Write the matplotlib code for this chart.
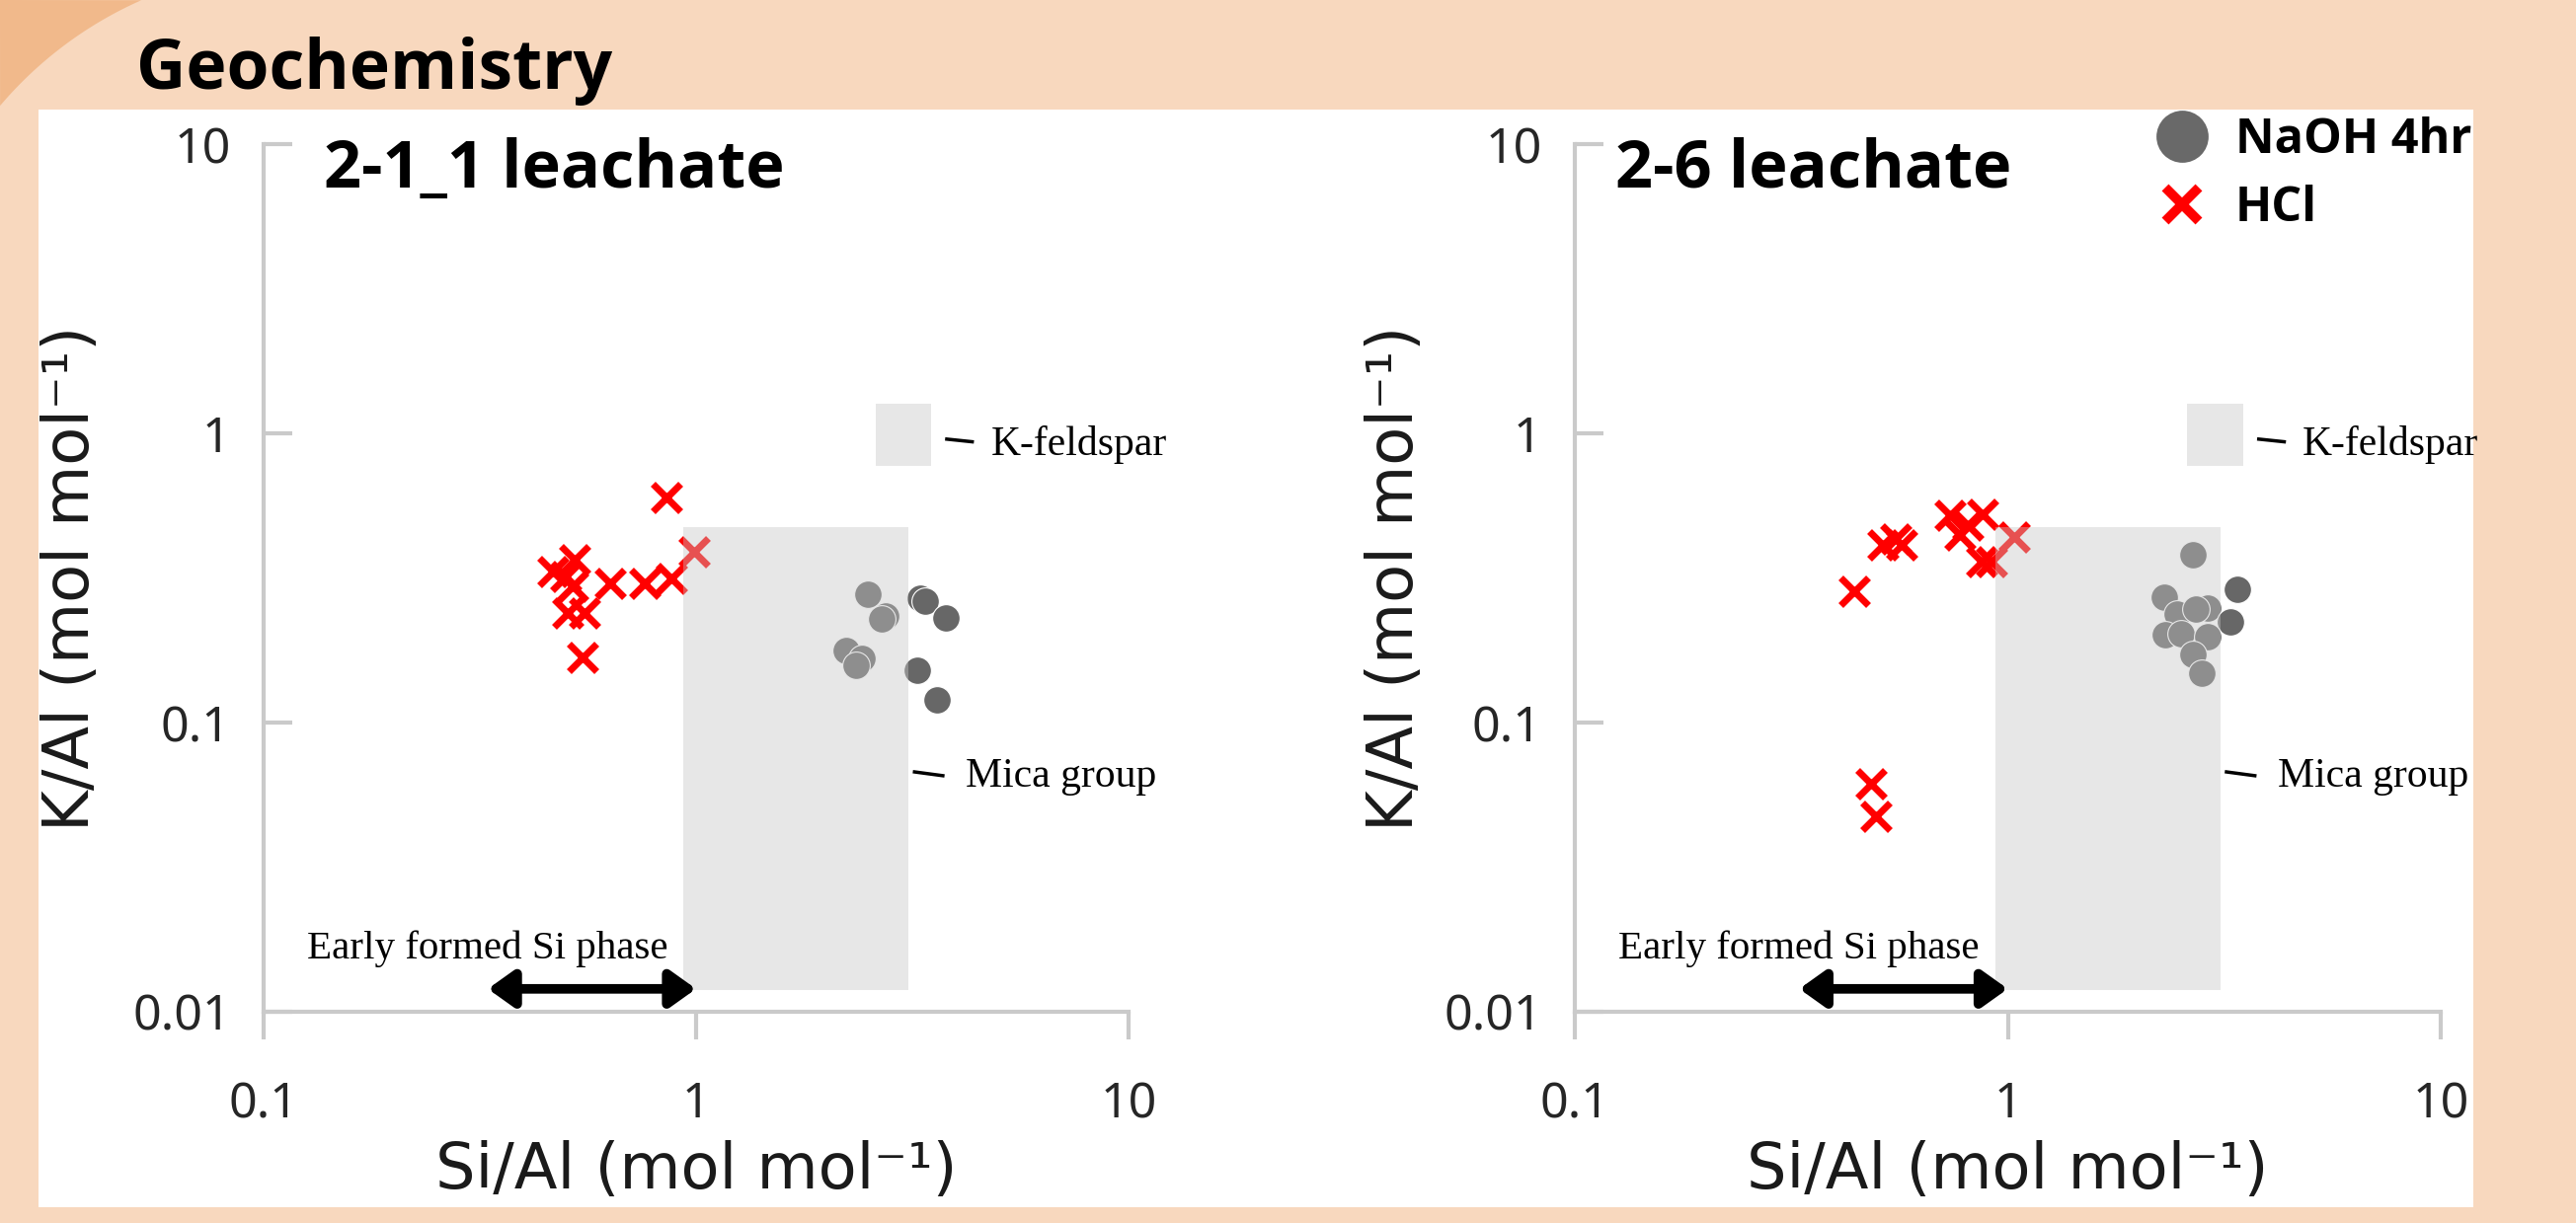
import numpy as np
import matplotlib
matplotlib.use('Agg')
import matplotlib.pyplot as plt
from matplotlib import font_manager as fm
from matplotlib.patches import Rectangle, Polygon
from matplotlib.lines import Line2D
from matplotlib.ticker import NullLocator

# ---- values (Si/Al, K/Al in mol/mol) ----
left_hcl_x = [0.854, 0.523, 0.467, 0.519, 0.50, 0.634, 0.761, 0.877, 0.505, 0.551, 0.546, 0.99]
left_hcl_y = [0.600, 0.365, 0.333, 0.296, 0.32, 0.304, 0.304, 0.315, 0.240, 0.240, 0.168, 0.389]
left_naoh_x = [2.50, 2.74, 2.69, 3.30, 3.38, 3.79, 2.22, 2.42, 2.34, 3.24, 3.61]
left_naoh_y = [0.277, 0.234, 0.229, 0.270, 0.263, 0.230, 0.177, 0.167, 0.158, 0.152, 0.120]

right_hcl_x = [0.736, 0.876, 0.810, 0.774, 0.915, 0.869, 0.514, 0.551, 0.570, 0.443, 0.483, 0.496, 1.035]
right_hcl_y = [0.520, 0.526, 0.481, 0.445, 0.360, 0.360, 0.410, 0.433, 0.410, 0.284, 0.0614, 0.0473, 0.438]
right_naoh_x = [2.68, 2.30, 3.39, 2.46, 2.90, 2.72, 3.26, 2.31, 2.51, 2.90, 2.67, 2.81]
right_naoh_y = [0.380, 0.271, 0.290, 0.237, 0.249, 0.246, 0.223, 0.202, 0.203, 0.198, 0.172, 0.148]

panel_titles = ['2-1_1 leachate', '2-6 leachate']
series_labels = ['NaOH 4hr', 'HCl']

# mineral fields and the early Si phase range
mica_x = (0.935, 3.10)
mica_y = (0.0119, 0.474)
kfs_x = (2.6, 3.5)
kfs_y = (0.771, 1.27)
early_si_x = (0.33, 1.0)
early_si_y = 0.012

xticks = [0.1, 1, 10]
xtick_labels = ['0.1', '1', '10']
yticks = [0.01, 0.1, 1, 10]
ytick_labels = ['0.01', '0.1', '1', '10']

# ---- styling ----
W, H, DPI = 2609, 1239, 100
BEIGE = '#F8D8BE'
ORANGE = '#F1B98B'
AXIS_GREY = '#CACACA'
RED = '#FF0000'
DARK_GREY = '#676767'
SANS = ['Noto Sans', 'DejaVu Sans']
SERIF = ['Liberation Serif', 'DejaVu Serif']


def pick_bold_family(candidates):
    """first candidate family that really has a bold face installed"""
    for name in candidates:
        for f in fm.fontManager.ttflist:
            w = f.weight
            if isinstance(w, str):
                w = {'bold': 700, 'semibold': 600, 'demibold': 600,
                     'heavy': 800, 'black': 900}.get(w.lower(), 400)
            if f.name == name and w >= 600 and f.style == 'normal':
                return [name, 'DejaVu Sans']
    return ['DejaVu Sans']


BOLD_SANS = pick_bold_family(['Noto Sans', 'Open Sans', 'Roboto', 'Lato', 'DejaVu Sans'])

fig = plt.figure(figsize=(W / DPI, H / DPI), dpi=DPI, facecolor=BEIGE)


def px(x, y):
    """pixel position (from top left) -> figure fraction"""
    return x / W, 1 - y / H


# darker orange corner outside the big rounded slide shape
cx, cy, r = 305, 366, 400
a0 = np.arctan2(0 - cy, 143 - cx)
a1 = np.arctan2(107 - cy, 0 - cx)
ang = np.linspace(a0, a1, 60)
corner = [px(0, 0)] + [px(cx + r * np.cos(a), cy + r * np.sin(a)) for a in ang]
fig.patches.append(Polygon(corner, closed=True, transform=fig.transFigure,
                           facecolor=ORANGE, edgecolor='none', zorder=-2))

# white chart panel
x0, y0 = px(39, 1223)
x1, y1 = px(2505, 111)
fig.patches.append(Rectangle((x0, y0), x1 - x0, y1 - y0, transform=fig.transFigure,
                             facecolor='white', edgecolor='none', zorder=-1))

fig.text(*px(138, 90), 'Geochemistry', fontsize=50, fontweight='bold',
         family=BOLD_SANS, va='baseline', ha='left')

ax_l = fig.add_axes([267 / W, 1 - 1025 / H, 876 / W, 879 / H])
ax_r = fig.add_axes([1595 / W, 1 - 1025 / H, 877 / W, 879 / H])

panels = [
    (ax_l, left_hcl_x, left_hcl_y, left_naoh_x, left_naoh_y, 0.0696, -0.187),
    (ax_r, right_hcl_x, right_hcl_y, right_naoh_x, right_naoh_y, 0.047, -0.172),
]

for i, (ax, hx, hy, nx, ny, title_x, ylab_x) in enumerate(panels):
    ax.set_facecolor('none')
    ax.set_xscale('log')
    ax.set_yscale('log')
    ax.set_xlim(0.1, 10)
    ax.set_ylim(0.01, 10)

    ax.plot(nx, ny, ls='none', marker='o', ms=20, mfc=DARK_GREY,
            mec='white', mew=0.8, zorder=3)
    ax.plot(hx, hy, ls='none', marker='x', ms=20, mew=5, color=RED, zorder=3)

    # mineral fields drawn translucent on top of the points
    for fx, fy in [(mica_x, mica_y), (kfs_x, kfs_y)]:
        ax.add_patch(Rectangle((fx[0], fy[0]), fx[1] - fx[0], fy[1] - fy[0],
                               facecolor='#C6C6C6', edgecolor='none',
                               alpha=0.41, zorder=4))

    ax.plot([3.8, 4.35], [0.955, 0.935], color='black', lw=2.5, zorder=5,
            clip_on=False)
    ax.text(4.8, 0.841, 'K-feldspar', family=SERIF, fontsize=30,
            va='baseline', ha='left', clip_on=False, zorder=6)
    ax.plot([3.2, 3.72], [0.0675, 0.0655], color='black', lw=2.5, zorder=5,
            clip_on=False)
    ax.text(4.2, 0.060, 'Mica group', family=SERIF, fontsize=30,
            va='baseline', ha='left', clip_on=False, zorder=6)

    ax.text(0.126, 0.0153, 'Early formed Si phase', family=SERIF, fontsize=29.5,
            va='baseline', ha='left', zorder=6)
    ax.annotate('', xy=(early_si_x[1], early_si_y), xytext=(early_si_x[0], early_si_y),
                arrowprops=dict(arrowstyle='<|-|>,head_length=0.7,head_width=0.5',
                                color='black', lw=7, shrinkA=0, shrinkB=0,
                                mutation_scale=22), zorder=6)

    ax.text(title_x, 0.950, panel_titles[i], transform=ax.transAxes,
            fontsize=48, fontweight='bold', family=BOLD_SANS,
            va='baseline', ha='left')

    for side in ['top', 'right']:
        ax.spines[side].set_visible(False)
    for side in ['left', 'bottom']:
        ax.spines[side].set_color(AXIS_GREY)
        ax.spines[side].set_linewidth(3)

    ax.set_xticks(xticks)
    ax.set_xticklabels(xtick_labels)
    ax.set_yticks(yticks)
    ax.set_yticklabels(ytick_labels)
    ax.xaxis.set_minor_locator(NullLocator())
    ax.yaxis.set_minor_locator(NullLocator())
    ax.tick_params(axis='y', direction='in', length=21, width=3, color=AXIS_GREY,
                   pad=24, labelsize=36, labelcolor='#262626')
    ax.tick_params(axis='x', direction='out', length=20, width=3, color=AXIS_GREY,
                   pad=30, labelsize=36, labelcolor='#262626')
    for lab in ax.get_xticklabels() + ax.get_yticklabels():
        lab.set_family(SANS)

    ax.set_xlabel('Si/Al (mol mol⁻¹)', fontsize=46, family='DejaVu Sans', color='#1a1a1a')
    ax.set_ylabel('K/Al (mol mol⁻¹)', fontsize=46, family='DejaVu Sans', color='#1a1a1a')
    ax.xaxis.set_label_coords(0.5, -0.148)
    ax.yaxis.set_label_coords(ylab_x, 0.5)

handles = [
    Line2D([], [], ls='none', marker='o', ms=38, mfc='#696969', mec='none'),
    Line2D([], [], ls='none', marker='x', ms=25, mew=7, color=RED),
]
ax_r.legend(handles, series_labels, loc='upper left',
            bbox_to_anchor=px(2181, 118), bbox_transform=fig.transFigure,
            frameon=False, prop=dict(family=BOLD_SANS, weight='bold', size=35),
            handlelength=1.2, handletextpad=0.5, labelspacing=0.42,
            borderpad=0, borderaxespad=0)

fig.savefig('out.png', dpi=DPI, facecolor=BEIGE)
